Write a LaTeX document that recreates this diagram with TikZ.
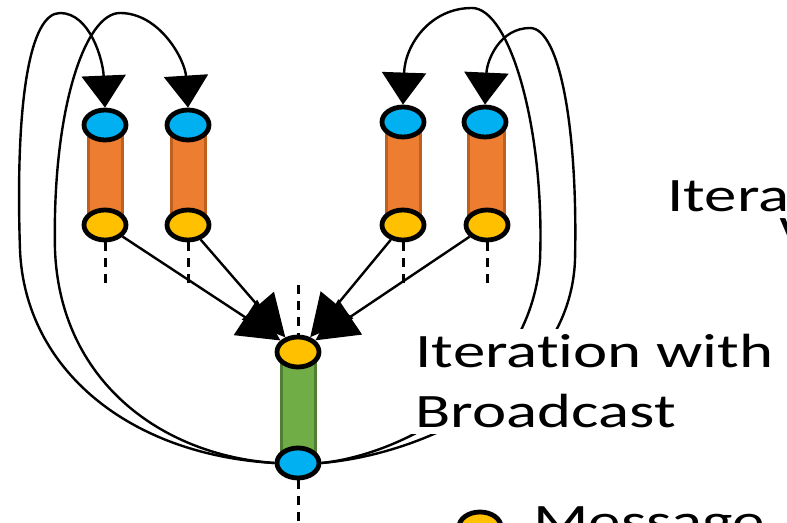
\documentclass[tikz,border=0pt]{standalone}
\usepackage{fontspec}
\setmainfont{Carlito}[Ligatures=NoCommon]
\usetikzlibrary{shapes.geometric,arrows.meta,backgrounds}
\definecolor{nodoblu}{HTML}{00B0F0}
\definecolor{nodogiallo}{HTML}{FFC000}
\definecolor{barraarancio}{HTML}{ED7D31}
\definecolor{bordoarancio}{HTML}{C0601F}
\definecolor{barraverde}{HTML}{70AD47}
\definecolor{bordoverde}{HTML}{507E32}
\begin{document}
\begin{tikzpicture}[x=0.5pt, y=-0.5pt,
		nodo/.style={ellipse, draw=black, line width=2.4pt, minimum width=21pt, minimum height=15pt, inner sep=0pt},
		stato/.style={nodo, fill=nodoblu},
		msg/.style={nodo, fill=nodogiallo},
		barra/.style={fill=barraarancio, draw=bordoarancio, line width=1.5pt},
		ritorno/.style={line width=1.2pt, -{Triangle[width=22pt, length=16pt]}},
		invio/.style={line width=1.2pt, -{Triangle[width=21pt, length=21pt]}},
		tratteggio/.style={line width=1.5pt, dash pattern=on 4.5pt off 3.5pt},
		etichetta/.style={font=\fontsize{24}{30}\selectfont, xscale=1.35, inner sep=0pt}]
		\useasboundingbox (0,0) rectangle (787,523);
		\clip (0,0) rectangle (787,523);
		% iterazioni in parallelo
		\node[stato] (s1) at (105,125) {};
		\node[stato] (s2) at (188,125) {};
		\node[stato] (s3) at (403,122) {};
		\node[stato] (s4) at (485,122) {};
		\node[msg] (m1) at (105,225) {};
		\node[msg] (m2) at (188,225) {};
		\node[msg] (m3) at (403,225) {};
		\node[msg] (m4) at (487,225) {};
		% iterazione con broadcast
		\node[msg] (m0) at (298,352) {};
		\node[stato] (s0) at (298,463) {};
		% barre
		\begin{scope}[on background layer]
			\foreach \i in {1,...,4}
				\filldraw[barra] ([xshift=-8.5pt]s\i.center) rectangle ([xshift=8.5pt]m\i.center);
			\filldraw[barra, fill=barraverde, draw=bordoverde] ([xshift=-8.5pt]m0.center) rectangle ([xshift=8.5pt]s0.center);
		\end{scope}
		% tratteggi
		\foreach \i in {1,...,4}
			\draw[tratteggio] (m\i.south) -- ++(0,44);
		\coordinate (cima) at (298,285);
		\draw[tratteggio] (cima) -- (m0.north);
		\draw[tratteggio] (s0.south) -- ++(0,50);
		% messaggi verso il nodo centrale
		\foreach \i in {1,...,4}
			\draw[invio] (m\i) -- (m0);
		% archi di ritorno
		\draw[ritorno] (s0.west) .. controls (130,455) and (25,370) .. (20,250)
		.. controls (15,100) and (30,13) .. (60,13)
		.. controls (90,13) and (103,60) .. (s1.north);
		\draw[ritorno] (s0.west) .. controls (160,455) and (60,380) .. (55,250)
		.. controls (52,110) and (85,13) .. (120,13)
		.. controls (160,13) and (185,60) .. (s2.north);
		\draw[ritorno] (s0.east) .. controls (400,455) and (530,390) .. (540,260)
		.. controls (545,130) and (510,8) .. (472,8)
		.. controls (430,8) and (405,45) .. (s3.north);
		\draw[ritorno] (s0.east) .. controls (420,455) and (570,390) .. (575,260)
		.. controls (578,130) and (560,28) .. (530,28)
		.. controls (500,28) and (487,60) .. (s4.north);
		% etichette
		\node[etichetta, fill=white, inner sep=3pt, align=left, anchor=base west] (testo) at (407,428) {Iteration with\\Broadcast};
		\node[etichetta, anchor=base west] (altra) at (667,212) {Itera};
		\node[etichetta, anchor=base west] (altra2) at (779,242) {w};
		\node[msg] (legenda) at (480,527) {};
		\node[etichetta, anchor=base west] (voce) at (533,538) {Message};
\end{tikzpicture}
\end{document}
